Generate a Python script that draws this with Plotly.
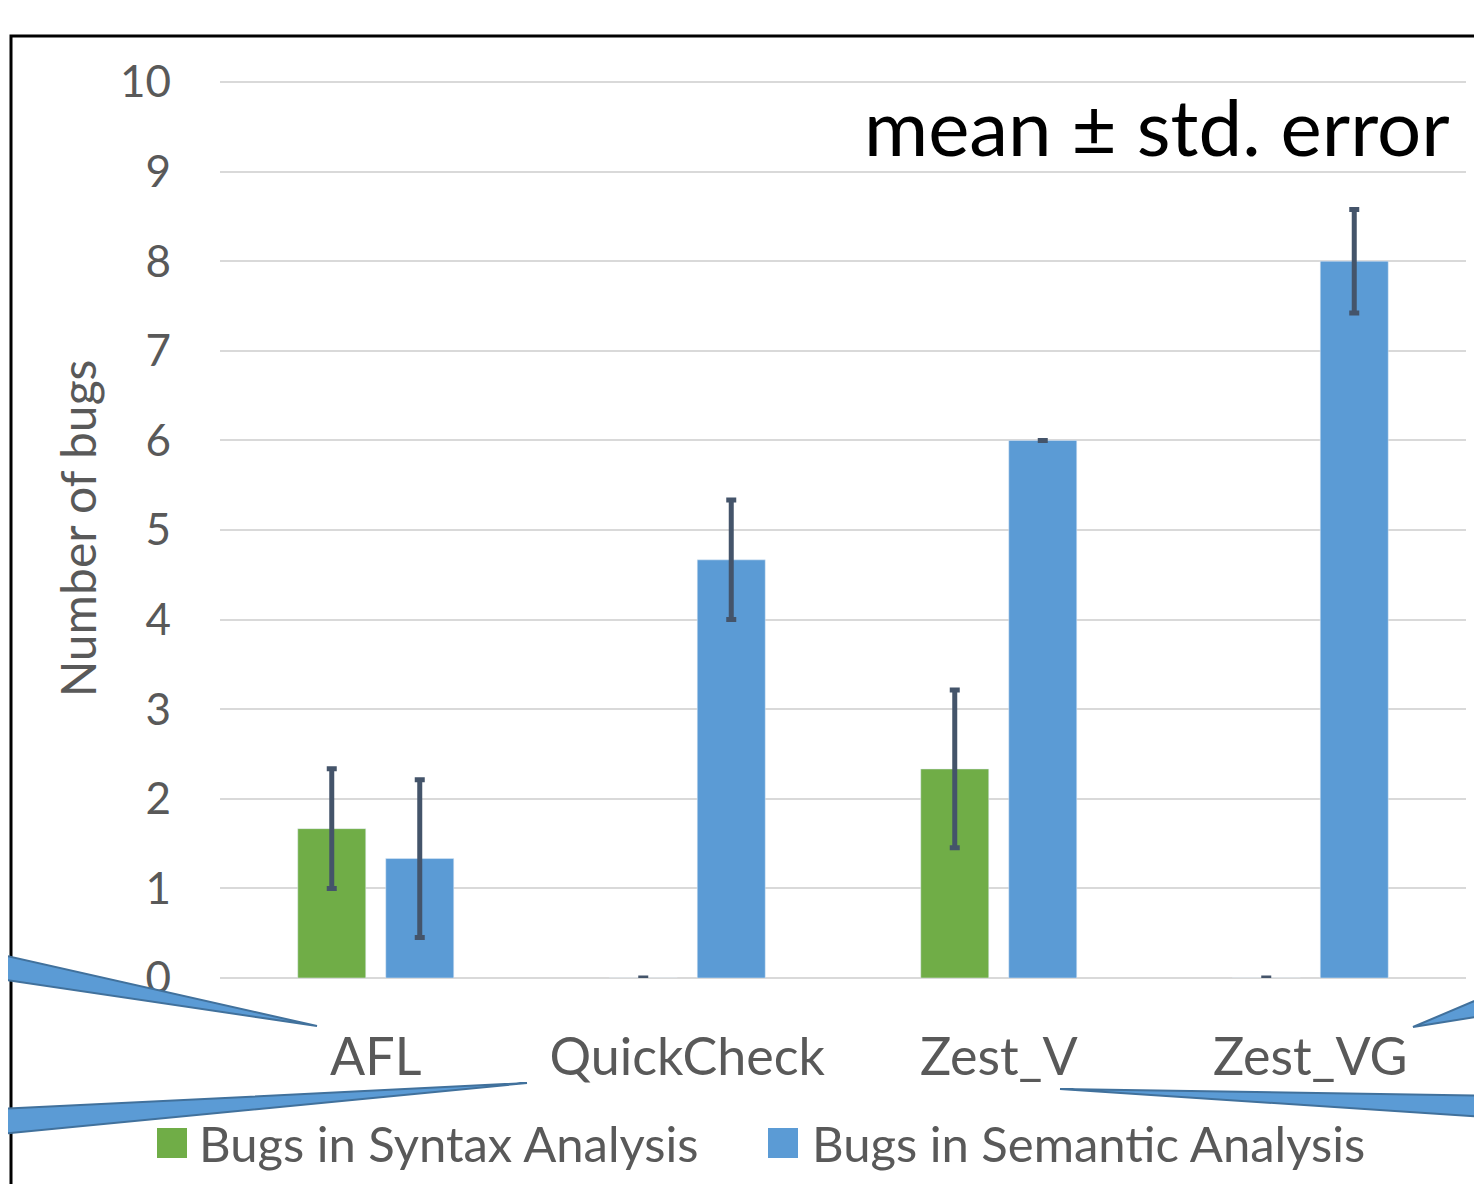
import plotly.graph_objects as go

categories = ["AFL", "QuickCheck", "Zest_V", "Zest_VG"]
syntax_mean = [1.667, 0.0, 2.333, 0.0]
syntax_err = [0.667, 0.0, 0.88, 0.0]
semantic_mean = [1.333, 4.667, 6.0, 8.0]
semantic_err = [0.88, 0.667, 0.0, 0.577]
series_names = ["Bugs in Syntax Analysis", "Bugs in Semantic Analysis"]
y_ticks = list(range(0, 11))

GREEN = "#70AD47"
BLUE = "#5B9BD5"
ERR = "#44546A"
FONT = "Lato"

# page has an 8px body margin; work in screen pixels and convert
OFF = 8
W, H = 1482 - OFF, 1184 - OFF
PL, PR, PT, PB = 220, 1466, 79, 978   # plot area in screen pixels
L, T = PL - OFF, PT - OFF
R = W - (PR - OFF)
B = H - (PB - OFF)

def px(x):
    return (x - PL) / (PR - PL)

def py(y):
    return (PB - y) / (PB - PT)

fig = go.Figure()
for name, vals, errs, col in [(series_names[0], syntax_mean, syntax_err, GREEN),
                              (series_names[1], semantic_mean, semantic_err, BLUE)]:
    fig.add_trace(go.Bar(
        x=categories, y=vals, name=name, marker_color=col, showlegend=False,
        error_y=dict(type="data", array=errs, visible=True, color=ERR,
                     thickness=5, width=5),
    ))

# decorative callout wedges (from the slide)
wedges = [
    [(-20, 950), (-20, 976), (317, 1026)],
    [(-20, 1110), (-20, 1136), (527, 1083)],
    [(1500, 1096), (1500, 1118), (1060, 1089)],
    [(1500, 990), (1500, 1013), (1413, 1027)],
]
shapes = []
# outer frame
shapes.append(dict(type="rect", xref="paper", yref="paper",
                   x0=px(11), x1=px(1600), y0=py(36), y1=py(1300),
                   line=dict(color="black", width=3), fillcolor="rgba(0,0,0,0)", layer="below"))
for w in wedges:
    path = "M " + " L ".join(f"{px(x):.5f},{py(y):.5f}" for x, y in w) + " Z"
    shapes.append(dict(type="path", path=path, xref="paper", yref="paper",
                       fillcolor=BLUE, line=dict(color="#41719C", width=2), layer="above"))

# custom legend (large square swatches)
legend_items = [(157, 200, GREEN, series_names[0]), (768, 813, BLUE, series_names[1])]
annotations = []
for sx, tx, col, name in legend_items:
    shapes.append(dict(type="rect", xref="paper", yref="paper",
                       x0=px(sx), x1=px(sx + 30), y0=py(1128), y1=py(1158),
                       fillcolor=col, line=dict(width=0)))
    annotations.append(dict(text=name, xref="paper", yref="paper", x=px(tx - 3), y=py(1143),
                            xanchor="left", yanchor="middle", showarrow=False,
                            font=dict(size=49, color="#595959", family=FONT)))

annotations.append(dict(text="mean ± std. error", xref="paper", yref="paper",
                        x=px(1452), y=py(126), xanchor="right", yanchor="middle",
                        showarrow=False, font=dict(size=78, color="black", family=FONT)))

fig.update_layout(
    width=W, height=H,
    margin=dict(l=L, r=R, t=T, b=B),
    plot_bgcolor="white", paper_bgcolor="white",
    barmode="group", bargap=0.435, bargroupgap=0.227,
    font=dict(family=FONT, color="#595959"),
    shapes=shapes, annotations=annotations, showlegend=False,
)
fig.update_xaxes(showgrid=False, showline=False, zeroline=False,
                 tickfont=dict(size=52, color="#595959"), ticklabelstandoff=44)
fig.update_yaxes(range=[0, (PB - PT) / 89.6], tickvals=y_ticks, showgrid=True, gridcolor="#D9D9D9",
                 gridwidth=2, zeroline=True, zerolinecolor="#D9D9D9", zerolinewidth=2,
                 tickfont=dict(size=44, color="#595959"), ticklabelstandoff=48,
                 title=dict(text="Number of bugs", font=dict(size=48, color="#595959"), standoff=8))

fig.write_html("out.html")
